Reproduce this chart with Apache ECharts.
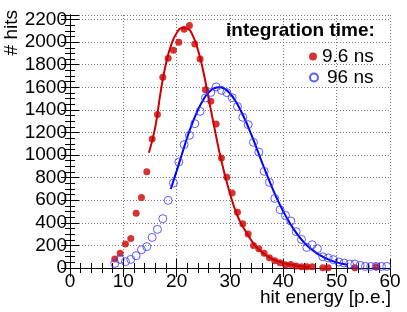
<!DOCTYPE html>
<html><head><meta charset="utf-8">
<script src="https://cdn.jsdelivr.net/npm/echarts@6/dist/echarts.min.js"></script>
<style>html,body{margin:0;padding:0;background:#fff}#c{width:407px;height:312px}</style>
</head><body><div id="c"></div>
<script>
// 9.6 ns data
var redX = [8.4,9.4,10.4,11.4,12.4,13.4,14.4,15.4,16.4,17.4,18.4,19.4,20.4,21.4,22.4,23.4,24.4,25.4,26.4,27.4,28.4,29.4,30.4,31.4,32.4,33.4,34.4,35.4,36.4,37.4,38.4,39.4,40.4,41.4,42.4,43.4,44.4,45.4,47.4,48.4,53.4,57.4];
var redY = [80,130,212,262,484,625,853,1142,1358,1688,1857,1927,1998,2113,2146,1984,1851,1579,1476,1275,974,803,664,493,392,301,200,171,130,91,65,47,29,32,18,12,12,12,3,3,3,10];
// 96 ns data
var blueX = [8.4,9.4,10.4,11.4,12.4,13.4,14.4,15.4,16.4,17.4,18.4,19.4,20.4,21.4,22.4,23.4,24.4,25.4,26.4,27.4,28.4,29.4,30.4,31.4,32.4,33.4,34.4,35.4,36.4,37.4,38.4,39.4,40.4,41.4,42.4,43.4,44.4,45.4,46.4,47.4,48.4,49.4,50.4,51.4,52.4,53.4,54.4,55.4,56.4,57.4,58.4,59.4];
var blueY = [41,76,56,76,109,162,189,271,342,437,599,753,939,1092,1175,1278,1387,1506,1555,1603,1573,1553,1508,1430,1334,1269,1112,1027,856,758,616,516,466,416,322,253,182,206,171,100,89,74,53,44,35,35,23,14,14,14,14,14];
// fit curves
var redFitX = [14.8,16,17,18,19,20,21,22,23,24,25,26,27,28,29,30,31,32,33,34,35,36,37,38,39,40,41,42,43,44,45];
var redFitY = [1020,1250,1560,1810,1980,2080,2125,2120,2060,1930,1740,1500,1260,1030,830,660,510,400,320,245,185,140,105,80,60,45,33,25,18,13,10];
var blueFitX = [18.9,20,21,22,23,24,25,26,27,28,29,30,31,32,33,34,35,36,37,38,39,40,41,42,43,44,45,46,47,48,49,50,51,52];
var blueFitY = [700,860,1010,1160,1290,1400,1490,1555,1590,1600,1585,1545,1480,1395,1295,1180,1060,935,815,700,595,500,415,340,275,220,175,140,110,85,65,50,38,28];
// axis ticks
var xTicks = {min:0, max:60, interval:10};
var yTicks = {min:0, max:2240, interval:200};

function pairs(xs, ys){ return xs.map(function(x,i){ return [x, ys[i]]; }); }

var FONT = 'Liberation Sans';
var RED = '#cc0000', BLUE = '#0000ff';
var chart = echarts.init(document.getElementById('c'), null, {renderer:'canvas'});
var axisLine = {show:true, lineStyle:{color:'#000', width:1}};
var grid = {show:false, left:70, right:17, top:15, bottom:44};
function plain(v){ return String(v); }
function xa(pos, labels){
  return {type:'value', position:pos, min:xTicks.min, max:xTicks.max, interval:xTicks.interval,
    axisLine:axisLine, axisTick:{show:true, inside:true, length:9, lineStyle:{color:'#000'}},
    minorTick:{show:true, splitNumber:5, length:5, lineStyle:{color:'#000'}},
    splitLine:{show:labels, lineStyle:{color:'#777', type:[1,2], width:1}},
    axisLabel:{show:labels, formatter:plain, fontFamily:FONT, fontSize:19, color:'#000', margin:4}};
}
function ya(pos, labels){
  return {type:'value', position:pos, min:yTicks.min, max:yTicks.max, interval:yTicks.interval,
    axisLine:axisLine, axisTick:{show:true, inside:true, length:9, lineStyle:{color:'#000'}},
    minorTick:{show:true, splitNumber:4, length:5, lineStyle:{color:'#000'}},
    splitLine:{show:labels, lineStyle:{color:'#777', type:[1,2], width:1}},
    axisLabel:{show:labels, formatter:plain, showMaxLabel:false, fontFamily:FONT, fontSize:19, color:'#000', margin:3}};
}
chart.setOption({
  animation:false,
  backgroundColor:'#fff',
  grid:grid,
  xAxis:[xa('bottom',true), xa('top',false)],
  yAxis:[ya('left',true), ya('right',false)],
  title:{text:'integration time:', left:226, top:21, padding:0,
    textStyle:{fontFamily:FONT, fontSize:19, fontWeight:'bold', color:'#000'}},
  legend:[
    {data:['9.6 ns'], left:309, top:47, padding:0, itemWidth:8, itemHeight:8, itemGap:0,
      textStyle:{fontFamily:FONT, fontSize:19, color:'#000'}},
    {data:['96 ns'], left:309, top:68, padding:0, itemWidth:8, itemHeight:8, itemGap:0,
      textStyle:{fontFamily:FONT, fontSize:19, color:'#000', padding:[0,0,0,4]}}
  ],
  graphic:[
    {type:'text', x:12, y:10, rotation:Math.PI/2,
      style:{text:'# hits', font:'19px "Liberation Sans"', fill:'#000', textAlign:'right', textVerticalAlign:'middle'}},
    {type:'text', x:391, y:298,
      style:{text:'hit energy [p.e.]', font:'19px "Liberation Sans"', fill:'#000', textAlign:'right', textVerticalAlign:'middle'}}
  ],
  series:[
    {name:'9.6 ns', type:'scatter', data:pairs(redX, redY), symbol:'circle', symbolSize:7,
      itemStyle:{color:RED}, z:4},
    {name:'96 ns', type:'scatter', data:pairs(blueX, blueY), symbol:'circle', symbolSize:8,
      itemStyle:{color:'rgba(0,0,0,0)', borderColor:'#3333ff', borderWidth:1}, z:4},
    {name:'fit96', type:'line', data:pairs(blueFitX, blueFitY), smooth:true, showSymbol:false,
      lineStyle:{color:BLUE, width:2}, z:3},
    {name:'fit9.6', type:'line', data:pairs(redFitX, redFitY), smooth:true, showSymbol:false,
      lineStyle:{color:RED, width:2}, z:3}
  ]
});
</script></body></html>
